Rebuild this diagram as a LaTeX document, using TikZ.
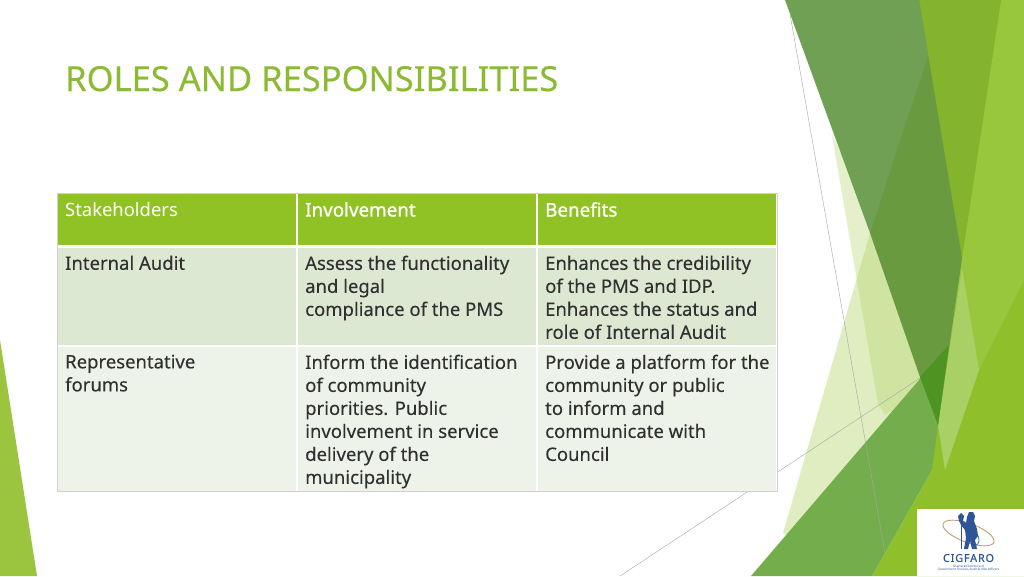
\documentclass[tikz,border=0pt]{standalone}
\usepackage{fontspec}
\setmainfont{Noto Sans}
\newfontfamily\bodyface{Noto Sans}[FakeBold=0.12]
\newfontfamily\heavyface{Noto Sans}[FakeBold=1.0]
\newfontfamily\titleface{Noto Sans}[FakeBold=0.25]
\newfontfamily\logoface{Noto Sans}[FakeBold=0.5,LetterSpace=8]
\definecolor{titlegreen}{HTML}{8CBA33}
\definecolor{headgreen}{HTML}{90C226}
\definecolor{rowa}{HTML}{DDE8D3}
\definecolor{rowb}{HTML}{EEF3EA}
\definecolor{bodytext}{HTML}{303030}
\definecolor{logoblue}{HTML}{2F5597}
\definecolor{logotan}{HTML}{BEA06E}
\tikzset{
  facet/.style={draw=none},
  hairline/.style={draw=black!35,line width=0.4pt},
  cell/.style={anchor=north west,inner sep=0pt,align=left,text=bodytext,font=\bodyface\fontsize{18.5}{23}\selectfont},
  headcell/.style={cell,text=white,font=\fontsize{18.4}{23}\selectfont},
  headbold/.style={cell,text=white,font=\heavyface\fontsize{18.8}{23}\selectfont}
}
\begin{document}
\begin{tikzpicture}[x=1pt,y=-1pt]
\useasboundingbox (0,0) rectangle (1024,576);
\fill[white] (0,0) rectangle (1024,576);
% left wedge
\fill[facet,fill={rgb,255:red,155;green,197;blue,62}] (0,340) -- (37,576) -- (0,576) -- cycle;
% pale facets
\fill[facet,fill={rgb,255:red,181;green,213;blue,106},opacity=.42] (870,233) -- (783,533) -- (795,540) -- (935,385) -- cycle;
\fill[facet,fill={rgb,255:red,181;green,213;blue,106},opacity=.35] (832,135) -- (878,404) -- (885,415) -- (935,385) -- (880,233) -- cycle;
% right bright field
\fill[facet,fill={rgb,255:red,143;green,192;blue,44}] (1024,0) -- (1024,576) -- (872,576) -- (932,470) -- (945,258) -- (910,0) -- cycle;
\fill[facet,fill={rgb,255:red,152;green,198;blue,60}] (1001,0) -- (1024,0) -- (1024,280) -- (979,370) -- (945,470) -- (938,425) -- (962,258) -- cycle;
\fill[facet,fill={rgb,255:red,132;green,179;blue,46}] (919,0) -- (1001,0) -- (962,258) -- cycle;
% light sliver
\fill[facet,fill={rgb,255:red,168;green,208;blue,100}] (962,268) -- (979,370) -- (945,470) -- (938,425) -- cycle;
% dark facets
\fill[facet,fill={rgb,255:red,106;green,154;blue,64}] (919,0) -- (962,258) -- (938,425) -- (920,377) -- (870,233) -- cycle;
\fill[facet,fill={rgb,255:red,112;green,160;blue,84}] (785,0) -- (919,0) -- (928,55) -- (870,233) -- cycle;
\fill[facet,fill={rgb,255:red,116;green,174;blue,76}] (949,345) -- (938,425) -- (932,470) -- (872,576) -- (751,576) -- cycle;
\fill[facet,fill={rgb,255:red,78;green,148;blue,35}] (920,377) -- (949,345) -- (938,425) -- cycle;
% hairlines
\coordinate (la) at (790,14);
\coordinate (lb) at (885,553);
\coordinate (lc) at (920,378);
\coordinate (ld) at (620,576);
\draw[hairline] (la) -- (lb);
\draw[hairline] (lc) -- (ld);
% title
\node[anchor=base west,inner sep=0pt,text=titlegreen,font=\titleface\fontsize{34.5}{40}\selectfont] (title) at (65,91) {ROLES AND RESPONSIBILITIES};
% table
\fill[black!18] (56.5,192.5) rectangle (777.5,492);
\fill[white] (57.5,193.5) rectangle (776.5,491);
\fill[headgreen] (58,194) rectangle (296,245);
\fill[headgreen] (298,194) rectangle (536,245);
\fill[headgreen] (538,194) rectangle (776,245);
\fill[rowa] (58,248) rectangle (296,345);
\fill[rowa] (298,248) rectangle (536,345);
\fill[rowa] (538,248) rectangle (776,345);
\fill[rowb] (58,347) rectangle (296,491);
\fill[rowb] (298,347) rectangle (536,491);
\fill[rowb] (538,347) rectangle (776,491);
\node[headcell] (h1) at (65,202) {Stakeholders};
\node[headbold] (h2) at (305,202) {Involvement};
\node[headbold] (h3) at (545,202) {Benefits};
\node[cell] (a1) at (65,255.5) {Internal Audit};
\node[cell] (a2) at (305,255.5) {Assess the functionality\\and legal\\compliance of the PMS};
\node[cell] (a3) at (545,255.5) {Enhances the credibility\\of the PMS and IDP.\\Enhances the status and\\role of Internal Audit};
\node[cell] (b1) at (65,354.5) {Representative\\forums};
\node[cell] (b2) at (305,354.5) {Inform the identification\\of community\\priorities. Public\\involvement in service\\delivery of the\\municipality};
\node[cell] (b3) at (545,354.5) {Provide a platform for the\\community or public\\to inform and\\communicate with\\Council};
% logo
\fill[white] (917,509) rectangle (1024,576);
\draw[logotan,line width=0.9pt,rotate around={-20:(968.5,533)}] (968.5,533) ellipse (27 and 9.5);
\draw[logoblue,line width=0.7pt] (961,517) -- (961,549);
\fill[logoblue] (958,516) -- (961,513) -- (964,516) -- (963,521) -- (966,523) -- (967,517) -- (969,512) -- (973,512) -- (975,516) -- (974,521) -- (977,529) -- (978,536) -- (975,540) -- (977,549) -- (972,549) -- (970,541) -- (968,549) -- (964,549) -- (966,538) -- (965,530) -- (961,525) -- (959,521) -- cycle;
\draw[logoblue,line width=0.7pt] (977,534) .. controls (980,538) and (980,544) .. (975,546);
\node[inner sep=0pt,text=logoblue,font=\logoface\fontsize{10.8}{11}\selectfont] (logoname) at (968.5,558) {CIGFARO};
\node[inner sep=0pt,align=center,text=logoblue,font=\fontsize{3.1}{3.8}\selectfont] (logosub) at (968.5,568) {Chartered Institute of\\Government Finance, Audit \& Risk Officers};
\end{tikzpicture}
\end{document}
